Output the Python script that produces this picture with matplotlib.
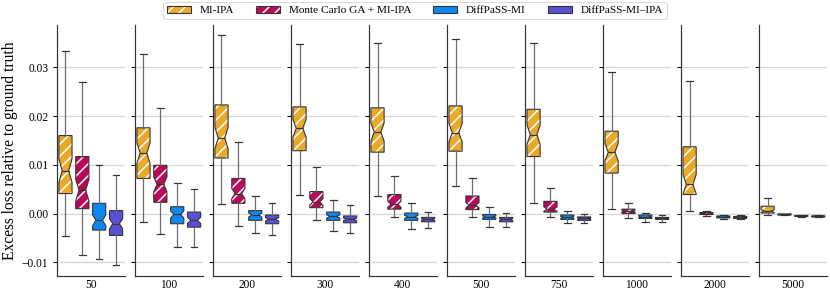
import numpy as np
import matplotlib
matplotlib.use('Agg')
import matplotlib.pyplot as plt
from matplotlib.patches import Patch
from matplotlib.colors import to_rgba

plt.rcParams['font.family'] = ['Liberation Serif', 'DejaVu Serif']
plt.rcParams['hatch.color'] = 'white'
plt.rcParams['hatch.linewidth'] = 1.5

sizes = ['50', '100', '200', '300', '400', '500', '750', '1000', '2000', '5000']
methods = ['MI-IPA', 'Monte Carlo GA + MI-IPA', 'DiffPaSS-MI', 'DiffPaSS-MI\u2013IPA']
colors = ['#E9AA29', '#B90A5A', '#0C89F0', '#5A50D2']
hatches = ['//', '//', '', '']
n_runs = 60  # used for notch width

# per size: (whisker low, Q1, median, Q3, whisker high)
mi_ipa = [
    (-0.0047, 0.0041, 0.0088, 0.0160, 0.0333),
    (-0.0017, 0.0072, 0.0124, 0.0176, 0.0328),
    (0.0020, 0.0114, 0.0155, 0.0223, 0.0366),
    (0.0039, 0.0129, 0.0175, 0.0219, 0.0348),
    (0.0037, 0.0126, 0.0167, 0.0217, 0.0350),
    (0.0057, 0.0128, 0.0166, 0.0221, 0.0358),
    (0.0021, 0.0117, 0.0162, 0.0214, 0.0350),
    (0.0009, 0.0083, 0.0126, 0.0169, 0.0291),
    (0.0005, 0.0039, 0.0060, 0.0137, 0.0272),
    (-0.0003, 0.0001, 0.0005, 0.0015, 0.0032),
]
mc_ga = [
    (-0.0086, 0.0010, 0.0048, 0.0117, 0.0270),
    (-0.0043, 0.0023, 0.0060, 0.0099, 0.0216),
    (-0.0025, 0.0021, 0.0041, 0.0072, 0.0146),
    (-0.0014, 0.0012, 0.0024, 0.0045, 0.0095),
    (-0.0007, 0.0009, 0.0019, 0.0039, 0.0078),
    (-0.0008, 0.0008, 0.0017, 0.0036, 0.0073),
    (-0.0008, 0.0003, 0.0009, 0.0025, 0.0052),
    (-0.0009, 0.0000, 0.0005, 0.0009, 0.0021),
    (-0.0005, -0.0002, 0.0000, 0.0002, 0.0005),
    (-0.0004, -0.0003, -0.0002, -0.0001, 0.0000),
]
diffpass_mi = [
    (-0.0094, -0.0034, -0.0014, 0.0021, 0.0099),
    (-0.0069, -0.0021, -0.0002, 0.0014, 0.0062),
    (-0.0041, -0.0014, -0.0003, 0.0006, 0.0035),
    (-0.0036, -0.0014, -0.0006, 0.0003, 0.0028),
    (-0.0032, -0.0014, -0.0007, 0.0001, 0.0021),
    (-0.0027, -0.0012, -0.0007, -0.0002, 0.0013),
    (-0.0019, -0.0012, -0.0008, -0.0003, 0.0006),
    (-0.0017, -0.0010, -0.0007, -0.0003, 0.0001),
    (-0.0011, -0.0009, -0.0007, -0.0005, -0.0003),
    (-0.0008, -0.0006, -0.0005, -0.0004, -0.0003),
]
diffpass_mi_ipa = [
    (-0.0106, -0.0045, -0.0021, 0.0006, 0.0080),
    (-0.0069, -0.0028, -0.0014, 0.0003, 0.0050),
    (-0.0045, -0.0021, -0.0012, -0.0003, 0.0021),
    (-0.0039, -0.0019, -0.0012, -0.0005, 0.0017),
    (-0.0030, -0.0017, -0.0012, -0.0008, 0.0003),
    (-0.0027, -0.0017, -0.0012, -0.0008, 0.0002),
    (-0.0019, -0.0014, -0.0010, -0.0007, 0.0000),
    (-0.0017, -0.0012, -0.0010, -0.0008, -0.0004),
    (-0.0011, -0.0010, -0.0008, -0.0006, -0.0003),
    (-0.0008, -0.0007, -0.0006, -0.0005, -0.0004),
]
all_data = [mi_ipa, mc_ga, diffpass_mi, diffpass_mi_ipa]

fig, axes = plt.subplots(1, len(sizes), sharey=True, figsize=(830 / 72, 291 / 72), dpi=72)
fig.subplots_adjust(left=0.0687, right=0.996, bottom=0.052, top=0.914, wspace=0.156)

for i, ax in enumerate(axes):
    stats = []
    for data in all_data:
        lo, q1, med, q3, hi = data[i]
        ci = 1.57 * (q3 - q1) / np.sqrt(n_runs)
        stats.append(dict(whislo=lo, q1=q1, med=med, q3=q3, whishi=hi,
                          cilo=med - ci, cihi=med + ci, fliers=[]))
    bp = ax.bxp(stats, positions=range(4), widths=0.78, shownotches=True,
                showfliers=False, patch_artist=True,
                boxprops=dict(edgecolor='#333333', linewidth=1.1),
                whiskerprops=dict(color='#6a6a6a', linewidth=1.2),
                capprops=dict(color='#333333', linewidth=1.2),
                medianprops=dict(color='#333333', linewidth=1.2))
    for box, c, h in zip(bp['boxes'], colors, hatches):
        box.set_facecolor(c)
        box.set_hatch(h)
        try:
            box.set_hatchcolor('white')
        except AttributeError:
            box._hatch_color = to_rgba('white')
    ax.set_xlim(-0.5, 3.5)
    ax.set_xticks([1.5])
    ax.set_xticklabels([sizes[i]])
    ax.tick_params(axis='x', length=0, labelsize=11.5, pad=3)
    ax.tick_params(axis='y', length=4.5, width=1.1, labelsize=11.5, pad=4)
    ax.yaxis.grid(True, color='#d6d6d6', linewidth=1.3)
    ax.set_axisbelow(True)
    for s in ['top', 'right']:
        ax.spines[s].set_visible(False)
    for s in ['left', 'bottom']:
        ax.spines[s].set_linewidth(1.2)
        ax.spines[s].set_color('#333333')

axes[0].set_ylim(-0.0128, 0.0387)
axes[0].set_yticks([-0.01, 0.0, 0.01, 0.02, 0.03])
axes[0].set_yticklabels(['\u22120.01', '0.00', '0.01', '0.02', '0.03'])
axes[0].set_ylabel('Excess loss relative to ground truth', fontsize=15.5)

handles = []
for m, c, h in zip(methods, colors, hatches):
    p = Patch(facecolor=c, edgecolor='#333333', linewidth=1.1, hatch=h, label=m)
    try:
        p.set_hatchcolor('white')
    except AttributeError:
        p._hatch_color = to_rgba('white')
    handles.append(p)
fig.legend(handles=handles, loc='upper center', bbox_to_anchor=(0.5, 1.012),
           ncol=4, fontsize=11.3, frameon=True, edgecolor='#d0d0d0',
           handlelength=2.1, handletextpad=0.8, columnspacing=1.95, borderpad=0.3)

fig.savefig('out.png', dpi=72)
